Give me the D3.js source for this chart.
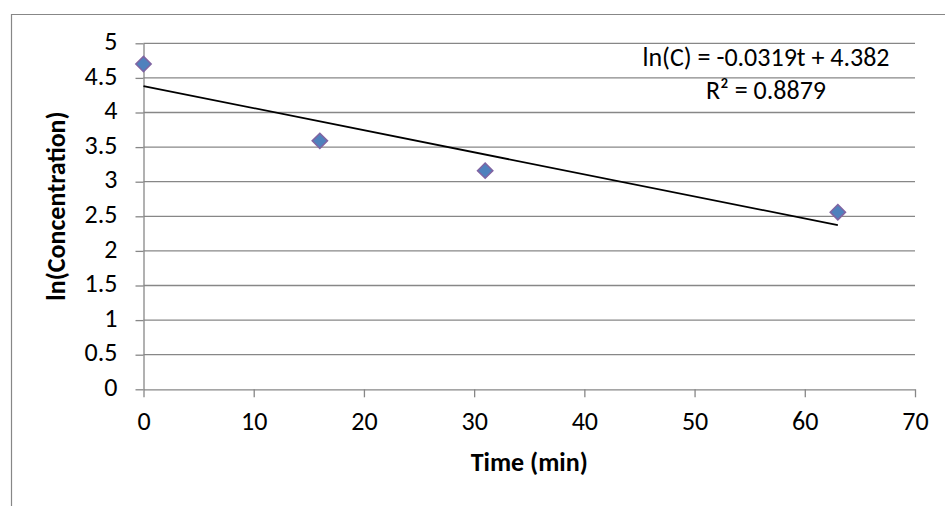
<!DOCTYPE html>
<html>
<head>
<meta charset="utf-8">
<script src="https://cdn.jsdelivr.net/npm/d3@7"></script>
<style>
  html, body { margin: 0; padding: 0; background: #fff; }
  svg { display: block; }
  text { font-family: "Carlito", "Calibri", "Open Sans", sans-serif; fill: #000; }
</style>
</head>
<body>
<svg id="chart" width="945" height="506"></svg>
<script>
// ---- data ----
const times = [0, 16, 31, 63];
const lnConc = [4.70, 3.59, 3.16, 2.56];
const xTicks = [0, 10, 20, 30, 40, 50, 60, 70];
const yTicks = [0, 0.5, 1, 1.5, 2, 2.5, 3, 3.5, 4, 4.5, 5];
const trendSlope = -0.0319;
const trendIntercept = 4.382;
const trendRange = [0, 63];
const equationLines = ["ln(C) = -0.0319t + 4.382", "R² = 0.8879"];
const xTitle = "Time (min)";
const yTitle = "ln(Concentration)";

// ---- layout ----
const FS = 26;
const svg = d3.select("#chart");
const plot = { left: 143.5, right: 915, top: 43.3, bottom: 389.3 };
const gridColor = "#878787";

const x = d3.scaleLinear().domain([0, 70]).range([plot.left, plot.right]);
const y = d3.scaleLinear().domain([0, 5]).range([plot.bottom, plot.top]);

// chart area border (left + top visible)
svg.append("path")
  .attr("d", `M11.5,506 L11.5,14.5 L945,14.5`)
  .attr("fill", "none").attr("stroke", gridColor).attr("stroke-width", 1.2);

// horizontal gridlines
svg.append("g").selectAll("line").data(yTicks.filter(d => d > 0)).join("line")
  .attr("x1", plot.left).attr("x2", plot.right)
  .attr("y1", d => y(d)).attr("y2", d => y(d))
  .attr("stroke", gridColor).attr("stroke-width", 1.3);

// x axis
const xAxis = svg.append("g").attr("transform", `translate(0,${plot.bottom})`)
  .call(d3.axisBottom(x).tickValues(xTicks).tickSize(8).tickSizeOuter(0).tickPadding(14).tickFormat(d3.format("d")));
xAxis.select(".domain").attr("stroke", gridColor).attr("stroke-width", 1.3);
xAxis.selectAll(".tick line").attr("stroke", gridColor).attr("stroke-width", 1.3);
xAxis.selectAll(".tick text").attr("dy", null).attr("y", 34).attr("dominant-baseline", "middle");

// y axis
const yAxis = svg.append("g").attr("transform", `translate(${plot.left},0)`)
  .call(d3.axisLeft(y).tickValues(yTicks).tickSize(8).tickSizeOuter(0).tickPadding(18).tickFormat(d => String(d)));
yAxis.select(".domain").attr("stroke", gridColor).attr("stroke-width", 1.3);
yAxis.selectAll(".tick line").attr("stroke", gridColor).attr("stroke-width", 1.3);
yAxis.selectAll(".tick text").attr("dy", null).attr("dominant-baseline", "middle");
svg.selectAll("g").attr("font-family", null).attr("font-size", FS);

// trendline
svg.append("line")
  .attr("x1", x(trendRange[0])).attr("y1", y(trendIntercept + trendSlope * trendRange[0]))
  .attr("x2", x(trendRange[1])).attr("y2", y(trendIntercept + trendSlope * trendRange[1]))
  .attr("stroke", "#000").attr("stroke-width", 1.8);

// markers (diamonds)
const pts = times.map((t, i) => ({ t, v: lnConc[i] }));
svg.append("g").selectAll("path").data(pts).join("path")
  .attr("transform", d => `translate(${x(d.t)},${y(d.v)})`)
  .attr("d", d3.symbol(d3.symbolDiamond2, 150))
  .attr("fill", "#4F81BD").attr("stroke", "#8064A2").attr("stroke-width", 1.5);

// equation label
svg.append("g").selectAll("text").data(equationLines).join("text")
  .attr("x", 766).attr("y", (d, i) => 60 + i * 33)
  .attr("dominant-baseline", "middle").attr("text-anchor", "middle").attr("font-size", FS)
  .text(d => d);

// axis titles
svg.append("text").attr("x", (plot.left + plot.right) / 2).attr("y", 465)
  .attr("dominant-baseline", "middle").attr("text-anchor", "middle")
  .attr("font-size", FS).attr("font-weight", "bold").text(xTitle);

svg.append("text").attr("transform", "translate(59,206) rotate(-90)")
  .attr("dominant-baseline", "middle").attr("text-anchor", "middle")
  .attr("font-size", FS).attr("font-weight", "bold").text(yTitle);
</script>
</body>
</html>
